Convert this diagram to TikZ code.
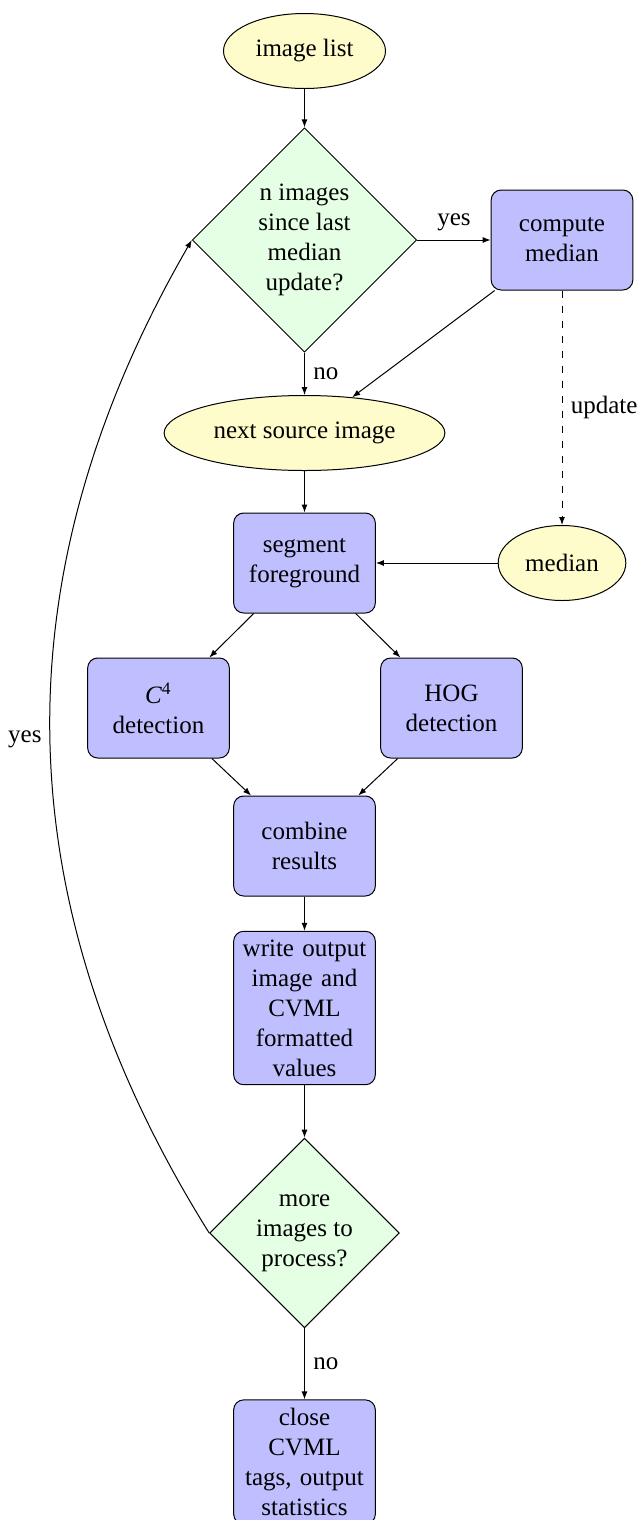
\documentclass[tikz,border=0pt]{standalone}
\usepackage{fontspec}
\setmainfont{Liberation Serif}
\usetikzlibrary{shapes.geometric,arrows.meta}
\begin{document}
\begin{tikzpicture}[x=0.4pt,y=-0.4pt,
  block/.style={rectangle, draw, fill=blue!25, text width=5em, align=center, rounded corners, minimum height=4em},
  decision/.style={diamond, draw, fill=green!10, text width=4.5em, align=flush center, inner sep=0pt},
  cloud/.style={ellipse, draw, fill=yellow!20, minimum height=3em},
  line/.style={draw, -{Latex[length=3.2pt,width=2.4pt]}}
]
\useasboundingbox (0,0) rectangle (641,1520);
\node[cloud] (imglist) at (304.5,51) {image list};
\node[decision] (dec1) at (304.5,240) {n images since last median update?};
\node[block] (compute) at (562,240) {compute median};
\node[cloud] (next) at (304.5,433) {next source image};
\node[block] (segment) at (304.5,563) {segment foreground};
\node[cloud] (median) at (562,563) {median};
\node[block] (c4) at (158.5,708) {\textit{C}\textsuperscript{4} detection};
\node[block] (hog) at (451.5,708) {HOG detection};
\node[block] (combine) at (304.5,846) {combine results};
\node[block] (write) at (304.5,1008) {write output image and CVML formatted values};
\node[decision] (dec2) at (304.5,1233) {more images to process?};
\node[block] (close) at (304.5,1462) {close CVML tags, output statistics};

\path[line] (imglist) -- (dec1);
\path[line] (dec1) -- node[above] {yes} (compute);
\path[line] (dec1) -- node[right] {no} (next);
\path[line] (compute) -- (next);
\path[line, dashed] (compute) -- node[right] {update} (median);
\path[line] (next) -- (segment);
\path[line] (median) -- (segment);
\path[line] (segment) -- (c4);
\path[line] (segment) -- (hog);
\path[line] (c4) -- (combine);
\path[line] (hog) -- (combine);
\path[line] (combine) -- (write);
\path[line] (write) -- (dec2);
\path[line] (dec2) -- node[right] {no} (close);
\path[line] (dec2.west) to[bend left=31] node[left] {yes} (dec1.west);
\end{tikzpicture}
\end{document}
